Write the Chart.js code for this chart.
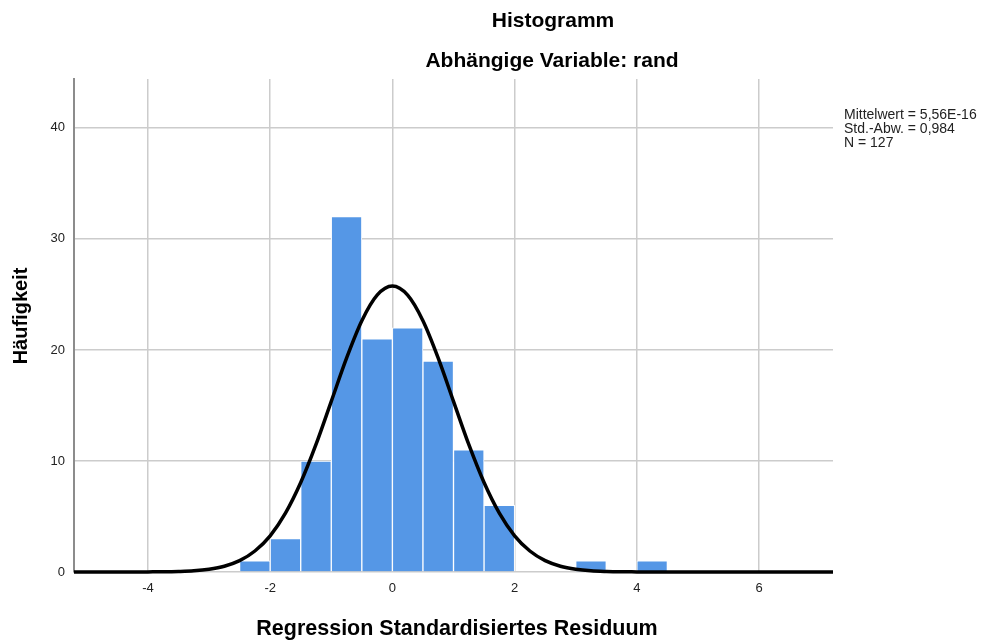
<!DOCTYPE html>
<html>
<head>
<meta charset="utf-8">
<script src="https://cdn.jsdelivr.net/npm/chart.js@4/dist/chart.umd.min.js"></script>
<style>
  body { margin: 0; background: #fff; }
  canvas { display: block; }
</style>
</head>
<body>
<canvas id="chart" width="984" height="642"></canvas>
<script>
// histogram bins (centers) and counts
const bin_centers = [-2.25, -1.75, -1.25, -0.75, -0.25, 0.25, 0.75, 1.25, 1.75, 3.25, 4.25]
const bin_counts = [1, 3, 10, 32, 21, 22, 19, 11, 6, 1, 1]

// normal curve
const curve_x = [-5.21, -4.25, -4, -3.75, -3.5, -3.25, -3, -2.75, -2.5, -2.25, -2, -1.75, -1.5, -1.25, -1, -0.75, -0.5, -0.25, 0,
    0.25, 0.5, 0.75, 1, 1.25, 1.5, 1.75, 2, 2.25, 2.5, 2.75, 3, 3.25, 3.5, 3.75, 4, 4.25, 7.21]
const curve_y = [0, 0, 0.01, 0.02, 0.05, 0.11, 0.25, 0.52, 1.02, 1.89, 3.26, 5.3, 8.06, 11.49, 15.37, 19.26, 22.63, 24.93, 25.75,
    24.93, 22.63, 19.26, 15.37, 11.49, 8.06, 5.3, 3.26, 1.89, 1.02, 0.52, 0.25, 0.11, 0.05, 0.02, 0.01, 0, 0]

const x_ticks = [-4, -2, 0, 2, 4, 6]
const y_ticks = [0, 10, 20, 30, 40]

const title_lines = ['Histogramm', 'Abhängige Variable: rand']
const stats_lines = ['Mittelwert = 5,56E-16', 'Std.-Abw. = 0,984', 'N = 127']
const x_title = 'Regression Standardisiertes Residuum'
const y_title = 'Häufigkeit'

const font_family = '"Liberation Sans", Arial, sans-serif'

const text_plugin = {
    id: 'texts',
    afterDraw(chart) {
        const c = chart.ctx
        c.save()
        c.fillStyle = '#000'
        c.textAlign = 'center'
        c.textBaseline = 'middle'
        c.font = 'bold 21px ' + font_family
        c.fillText(title_lines[0], 553, 21)
        c.fillText(title_lines[1], 552, 61)
        c.font = 'bold 21.5px ' + font_family
        c.fillText(x_title, 457, 629)

        c.save()
        c.font = 'bold 20px ' + font_family
        c.translate(21, 316)
        c.rotate(-Math.PI / 2)
        c.fillText(y_title, 0, 0)
        c.restore()

        c.textAlign = 'left'
        c.fillStyle = '#222'
        c.font = '14px ' + font_family
        stats_lines.forEach((t, i) => {
            c.fillText(t, 844, 115 + i * 14)
        })
        c.restore()
    }
}

const chart = new Chart(document.querySelector('#chart'), {
    type: 'bar',
    data: {
        datasets: [{
            type: 'line',
            data: curve_x.map((x, i) => ({ x: x, y: curve_y[i] })),
            borderColor: '#000',
            borderWidth: 3.5,
            pointRadius: 0,
            cubicInterpolationMode: 'monotone',
            clip: false,
            order: 0,
        }, {
            data: bin_centers.map((x, i) => ({ x: x, y: bin_counts[i] })),
            backgroundColor: '#5597e6',
            borderColor: '#ffffff',
            borderWidth: 1,
            barPercentage: 1,
            categoryPercentage: 1,
            order: 1,
        }],
    },
    options: {
        responsive: false,
        animation: false,
        layout: {
            padding: { top: 79, right: 151, left: 0, bottom: 0 }
        },
        plugins: {
            legend: { display: false },
            tooltip: { enabled: false },
        },
        scales: {
            x: {
                type: 'linear',
                min: -5.21,
                max: 7.21,
                offset: false,
                afterBuildTicks: (s) => { s.ticks = x_ticks.map(v => ({ value: v })) },
                afterFit: (s) => { s.height = 70 },
                grid: { color: '#cccccc', lineWidth: 1.5, drawTicks: false, offset: false },
                border: { display: false },
                ticks: {
                    padding: 9,
                    color: '#222',
                    font: { family: font_family, size: 13 },
                },
            },
            y: {
                min: 0,
                max: 44.4,
                afterBuildTicks: (s) => { s.ticks = y_ticks.map(v => ({ value: v })) },
                afterFit: (s) => { s.width = 74 },
                grid: { color: '#cccccc', lineWidth: 1.5, drawTicks: false },
                border: { color: '#8c8c8c', width: 2 },
                ticks: {
                    padding: 9,
                    color: '#222',
                    font: { family: font_family, size: 13 },
                },
            },
        },
    },
    plugins: [text_plugin],
});
</script>
</body>
</html>
